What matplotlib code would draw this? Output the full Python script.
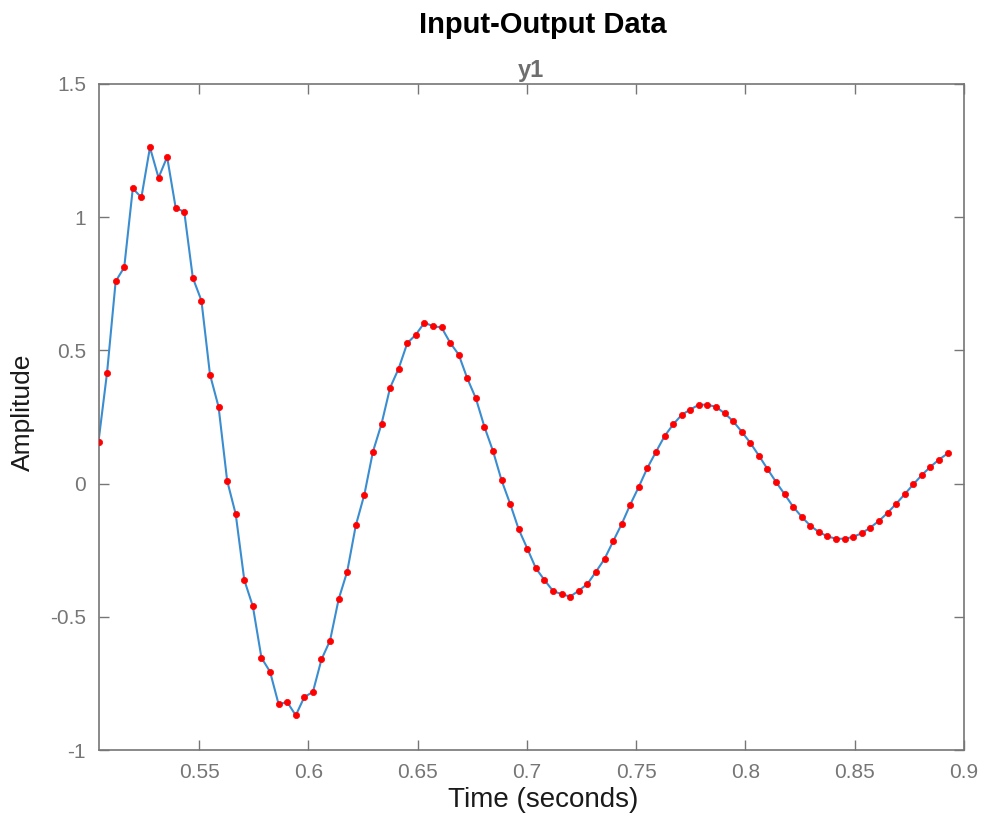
import numpy as np
import matplotlib
matplotlib.use("Agg")
import matplotlib.pyplot as plt

plt.rcParams['font.family'] = ['Liberation Sans', 'DejaVu Sans']

t_start = 0.504
Ts = 0.003924
y1 = [0.158, 0.417, 0.759, 0.812, 1.108, 1.074, 1.262, 1.148, 1.226, 1.035,
      1.020, 0.772, 0.687, 0.409, 0.288, 0.011, -0.115, -0.362, -0.461, -0.654,
      -0.706, -0.828, -0.820, -0.870, -0.801, -0.782, -0.660, -0.589, -0.434, -0.330,
      -0.157, -0.041, 0.120, 0.224, 0.360, 0.432, 0.527, 0.559, 0.604, 0.591,
      0.586, 0.529, 0.484, 0.395, 0.320, 0.213, 0.122, 0.012, -0.076, -0.172,
      -0.244, -0.318, -0.362, -0.403, -0.415, -0.424, -0.402, -0.377, -0.331, -0.283,
      -0.217, -0.152, -0.079, -0.012, 0.059, 0.119, 0.178, 0.222, 0.258, 0.278,
      0.296, 0.296, 0.288, 0.264, 0.234, 0.195, 0.153, 0.105, 0.055, 0.006,
      -0.040, -0.087, -0.125, -0.158, -0.182, -0.198, -0.207, -0.207, -0.200, -0.186,
      -0.165, -0.140, -0.110, -0.076, -0.040, -0.003, 0.032, 0.063, 0.090, 0.113]
t = t_start + Ts * np.arange(len(y1))

xticks = [0.55, 0.6, 0.65, 0.7, 0.75, 0.8, 0.85, 0.9]
xlabels = ['0.55', '0.6', '0.65', '0.7', '0.75', '0.8', '0.85', '0.9']
yticks = [-1, -0.5, 0, 0.5, 1, 1.5]
ylabels = ['-1', '-0.5', '0', '0.5', '1', '1.5']

gray = '#767676'

fig = plt.figure(figsize=(9.87, 8.17), dpi=100)
ax = fig.add_axes([0.0998, 0.082, 0.8769, 0.8152])

ax.plot(t, y1, color='#3a8dd0', lw=1.5, zorder=2)
ax.plot(t, y1, ls='none', marker='o', ms=4.5, mfc='red', mec='red', mew=0.5, zorder=3)

ax.set_xlim(t_start, 0.9)
ax.set_ylim(-1, 1.5)
ax.set_xticks(xticks)
ax.set_xticklabels(xlabels)
ax.set_yticks(yticks)
ax.set_yticklabels(ylabels)
ax.tick_params(direction='in', length=7, width=1, colors=gray, labelsize=15,
               top=True, right=True)
ax.tick_params(axis='x', pad=9)
ax.tick_params(axis='y', pad=9)
for s in ax.spines.values():
    s.set_color(gray)
    s.set_linewidth(1.2)

ax.set_xlabel('Time (seconds)', fontsize=20, color='#1a1a1a')
ax.xaxis.set_label_coords(0.5136, -0.056)
ax.set_ylabel('Amplitude', fontsize=19, color='#1a1a1a')
ax.yaxis.set_label_coords(-0.074, 0.5075)

fig.text(0.550, 0.970, 'Input-Output Data', ha='center', va='center',
         fontsize=21, fontweight='bold', color='black')
ax.set_title('y1', fontsize=17, fontweight='bold', color='#6e6e6e', pad=5)

fig.savefig('out.png', dpi=100)
